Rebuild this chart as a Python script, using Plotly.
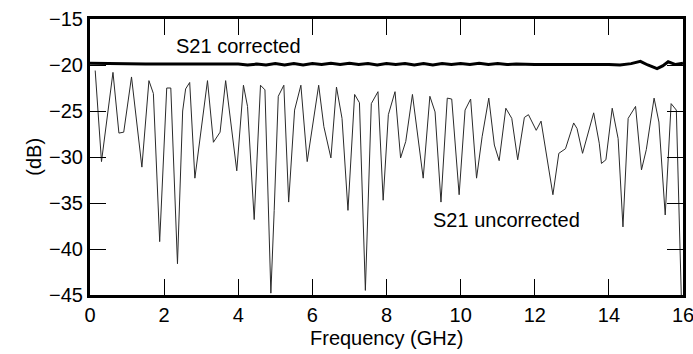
import plotly.graph_objects as go

# S21 uncorrected (frequency in GHz, magnitude in dB)
unc_freq = [0.14, 0.31, 0.62, 0.78, 0.91, 1.12, 1.40, 1.59, 1.71, 1.88, 2.07, 2.18, 2.36, 2.50, 2.58, 2.69,
            2.83, 3.17, 3.33, 3.51, 3.66, 3.96, 4.14, 4.25, 4.43, 4.60, 4.72, 4.88, 4.97, 5.08, 5.23,
            5.36, 5.52, 5.69, 5.86, 6.17, 6.31, 6.50, 6.65, 6.80, 6.96, 7.14, 7.27, 7.43, 7.59, 7.77,
            7.91, 8.05, 8.23, 8.38, 8.52, 8.70, 8.99, 9.17, 9.31, 9.47, 9.64, 9.76, 9.96, 10.12, 10.27,
            10.43, 10.58, 10.76, 10.91, 11.04, 11.22, 11.38, 11.54, 11.72, 11.83, 12.04, 12.17, 12.49,
            12.65, 12.83, 12.98, 13.05, 13.14, 13.29, 13.59, 13.74, 13.80, 13.92, 14.09, 14.25, 14.38,
            14.52, 14.72, 14.88, 15.01, 15.22, 15.35, 15.52, 15.68, 15.82, 15.96]
unc_db = [-20.6, -30.5, -20.8, -27.4, -27.3, -21.3, -31.1, -21.7, -23.1, -39.2, -22.5, -22.5, -41.6, -25.0, -22.6, -21.9,
          -32.3, -21.7, -28.4, -27.3, -21.7, -31.5, -22.2, -24.5, -36.8, -22.2, -22.7, -44.8, -35.8, -23.4, -22.2,
          -34.9, -24.9, -22.2, -30.5, -22.2, -26.7, -30.1, -22.4, -25.8, -35.8, -23.2, -24.1, -44.5, -24.2, -22.9,
          -34.7, -25.4, -22.9, -30.1, -28.3, -23.2, -32.3, -23.4, -25.1, -34.9, -23.6, -23.7, -34.1, -24.9, -23.7,
          -32.3, -27.8, -23.6, -28.7, -30.4, -24.7, -25.8, -30.3, -25.7, -25.4, -27.1, -26.1, -34.1,
          -29.6, -29.1, -27.2, -26.3, -26.9, -29.6, -25.2, -28.5, -30.7, -30.3, -24.7, -28.0, -37.6,
          -25.8, -24.5, -31.4, -29.2, -23.6, -26.2, -36.3, -24.2, -24.9, -46.0]

# S21 corrected
cor_freq = [0.0, 0.5, 1.0, 1.5, 2.0, 2.5, 3.0, 3.5, 4.0, 4.25, 4.5, 4.75, 5.0, 5.25, 5.5, 5.75, 6.0, 6.25,
            6.5, 6.75, 7.0, 7.25, 7.5, 7.75, 8.0, 8.25, 8.5, 8.75, 9.0, 9.25, 9.5, 9.75, 10.0, 10.25,
            10.5, 10.75, 11.0, 11.25, 11.5, 12.0, 12.5, 13.0, 13.5, 14.0, 14.3, 14.6, 14.85, 15.05,
            15.3, 15.45, 15.6, 15.8, 16.0]
cor_db = [-19.8, -19.85, -19.85, -19.9, -19.9, -19.9, -19.9, -19.95, -19.9, -20.0, -19.9, -20.0, -19.85, -20.0,
          -19.85, -20.0, -19.85, -19.95, -19.8, -19.95, -19.8, -19.95, -19.85, -20.0, -19.85, -19.95, -19.85,
          -20.0, -19.85, -20.0, -19.85, -19.95, -19.85, -19.95, -19.8, -19.95, -19.85, -19.95, -19.9, -19.95,
          -19.95, -19.9, -19.9, -19.95, -20.0, -19.85, -19.6, -20.0, -20.4, -20.1, -19.65, -19.95, -19.8]

x_ticks = [0, 2, 4, 6, 8, 10, 12, 14, 16]
y_ticks = [-45, -40, -35, -30, -25, -20, -15]

FONT = "Liberation Sans, Arial, sans-serif"
TXT = dict(size=20, color="black", family=FONT)

fig = go.Figure()
fig.add_trace(go.Scatter(x=unc_freq, y=unc_db, mode="lines",
                         line=dict(color="#2a2a2a", width=1), showlegend=False))
fig.add_trace(go.Scatter(x=cor_freq, y=cor_db, mode="lines",
                         line=dict(color="black", width=3), showlegend=False))

fig.add_annotation(x=4.0, y=-17.9, text="S21 corrected", showarrow=False, font=TXT)
fig.add_annotation(x=11.23, y=-36.9, text="S21 uncorrected", showarrow=False, font=TXT)

# axis titles
fig.add_annotation(xref="paper", yref="paper", x=0.5, y=-0.156, text="Frequency (GHz)",
                   showarrow=False, font=TXT, xanchor="center", yanchor="middle")
fig.add_annotation(xref="paper", yref="paper", x=-0.095, y=0.5, text="(dB)", textangle=-90,
                   showarrow=False, font=TXT, xanchor="center", yanchor="middle")

axis_common = dict(showgrid=False, zeroline=False, showline=True, linecolor="black", linewidth=3,
                   mirror="allticks", ticks="inside", ticklen=16, tickwidth=1.2, tickcolor="black",
                   tickfont=TXT, automargin=False, ticklabeloverflow="allow")

fig.update_xaxes(range=[0, 16], tickvals=x_ticks, **axis_common)
fig.update_yaxes(range=[-45, -15], tickvals=y_ticks, **axis_common)

fig.update_layout(width=693, height=354, margin=dict(l=90, r=10, t=19, b=59),
                  plot_bgcolor="white", paper_bgcolor="white", showlegend=False)

fig.write_html("out.html", config={"displayModeBar": False},
               post_script="document.body.style.margin='0px';document.body.style.overflow='hidden';")
